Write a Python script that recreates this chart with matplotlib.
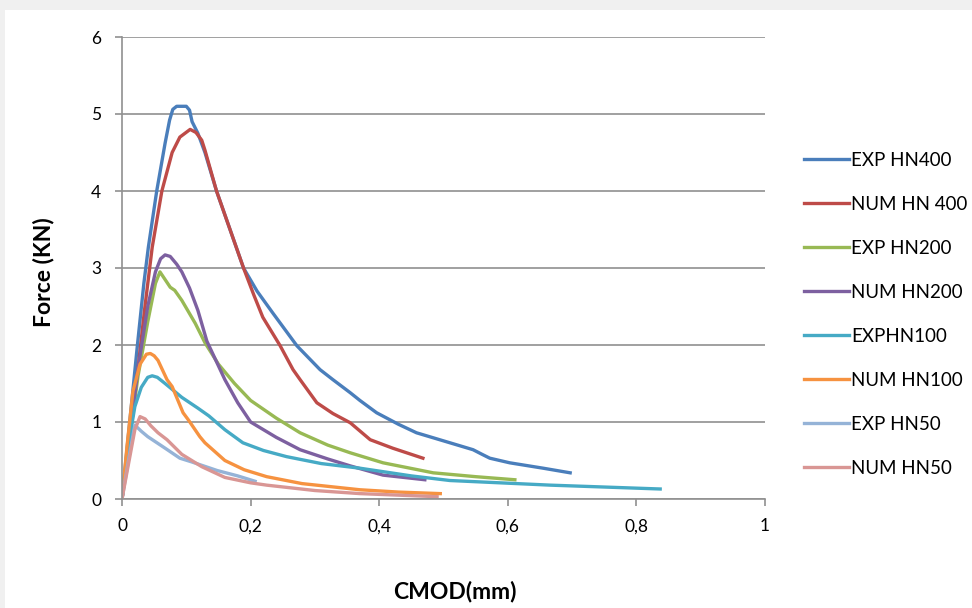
import matplotlib.pyplot as plt
from matplotlib.patches import Rectangle
from matplotlib.ticker import FuncFormatter

plt.rcParams['font.family'] = ['Lato', 'DejaVu Sans']

# CMOD (mm) / Force (kN)
exp400_x = [0, 0.012, 0.024, 0.034, 0.041, 0.054, 0.067, 0.074, 0.079, 0.085, 0.1, 0.105, 0.109, 0.118,
            0.129, 0.147, 0.168, 0.189, 0.21, 0.235, 0.272, 0.308, 0.328, 0.355, 0.37, 0.396,
            0.43, 0.458, 0.51, 0.546, 0.56, 0.572, 0.603, 0.655, 0.697]
exp400_y = [0, 1.0, 2.0, 2.8, 3.27, 4.0, 4.62, 4.92, 5.06, 5.1, 5.1, 5.05, 4.9, 4.75,
            4.5, 4.0, 3.5, 3.0, 2.7, 2.41, 1.99, 1.68, 1.55, 1.38, 1.28, 1.12,
            0.97, 0.86, 0.73, 0.64, 0.58, 0.53, 0.47, 0.4, 0.34]

num400_x = [0, 0.012, 0.025, 0.035, 0.047, 0.062, 0.078, 0.09, 0.106, 0.115, 0.124, 0.129,
            0.147, 0.168, 0.189, 0.205, 0.219, 0.246, 0.266, 0.277, 0.303, 0.328, 0.355,
            0.386, 0.421, 0.468]
num400_y = [0, 0.8, 1.7, 2.45, 3.27, 4.0, 4.5, 4.7, 4.8, 4.76, 4.66, 4.53,
            4.0, 3.5, 3.0, 2.65, 2.36, 1.99, 1.68, 1.55, 1.25, 1.11, 0.99,
            0.77, 0.66, 0.53]

exp200_x = [0, 0.012, 0.025, 0.04, 0.052, 0.059, 0.067, 0.075, 0.082, 0.093, 0.114, 0.129,
            0.15, 0.175, 0.2, 0.24, 0.277, 0.32, 0.355, 0.406, 0.484, 0.55, 0.611]
exp200_y = [0, 0.8, 1.6, 2.3, 2.8, 2.95, 2.85, 2.75, 2.71, 2.58, 2.28, 2.03,
            1.75, 1.5, 1.28, 1.05, 0.86, 0.7, 0.6, 0.47, 0.34, 0.29, 0.25]

num200_x = [0, 0.012, 0.025, 0.04, 0.052, 0.06, 0.067, 0.075, 0.085, 0.093, 0.105, 0.118, 0.132,
            0.16, 0.18, 0.2, 0.24, 0.277, 0.32, 0.355, 0.406, 0.471]
num200_y = [0, 0.8, 1.7, 2.5, 2.95, 3.12, 3.17, 3.15, 3.05, 2.95, 2.74, 2.45, 2.05,
            1.55, 1.25, 1.0, 0.8, 0.64, 0.52, 0.43, 0.31, 0.25]

exp100_x = [0, 0.01, 0.02, 0.03, 0.04, 0.047, 0.055, 0.067, 0.093, 0.118, 0.135, 0.16,
            0.188, 0.22, 0.256, 0.31, 0.37, 0.45, 0.51, 0.666, 0.837]
exp100_y = [0, 0.7, 1.2, 1.45, 1.58, 1.6, 1.58, 1.5, 1.32, 1.18, 1.08, 0.9,
            0.73, 0.63, 0.55, 0.46, 0.4, 0.3, 0.24, 0.18, 0.13]

num100_x = [0, 0.008, 0.017, 0.028, 0.038, 0.044, 0.05, 0.056, 0.07, 0.078, 0.095, 0.103,
            0.121, 0.129, 0.16, 0.19, 0.225, 0.28, 0.37, 0.43, 0.495]
num100_y = [0, 0.7, 1.4, 1.75, 1.88, 1.89, 1.86, 1.8, 1.55, 1.46, 1.12, 1.03,
            0.81, 0.73, 0.5, 0.38, 0.29, 0.2, 0.12, 0.09, 0.07]

exp50_x = [0, 0.01, 0.02, 0.03, 0.04, 0.067, 0.09, 0.109, 0.148, 0.18, 0.207]
exp50_y = [0, 0.5, 0.96, 0.88, 0.81, 0.66, 0.53, 0.48, 0.37, 0.3, 0.23]

num50_x = [0, 0.01, 0.02, 0.028, 0.036, 0.045, 0.056, 0.07, 0.093, 0.124, 0.16, 0.2,
           0.225, 0.3, 0.37, 0.49]
num50_y = [0, 0.45, 0.9, 1.07, 1.04, 0.95, 0.86, 0.77, 0.58, 0.42, 0.28, 0.21,
           0.18, 0.11, 0.07, 0.03]

series = [
    ('EXP HN400', exp400_x, exp400_y, '#4A7EBB'),
    ('NUM HN 400', num400_x, num400_y, '#BE4B48'),
    ('EXP HN200', exp200_x, exp200_y, '#98B954'),
    ('NUM HN200', num200_x, num200_y, '#7D60A0'),
    ('EXPHN100', exp100_x, exp100_y, '#46AAC5'),
    ('NUM HN100', num100_x, num100_y, '#F69240'),
    ('EXP HN50', exp50_x, exp50_y, '#95B3D7'),
    ('NUM HN50', num50_x, num50_y, '#D99694'),
]

fig = plt.figure(figsize=(9.72, 6.08), dpi=100)
fig.patch.set_facecolor('#f0f0f0')
fig.patches.append(Rectangle((5 / 972, 0), 1, 1 - 10 / 608, transform=fig.transFigure,
                             facecolor='white', edgecolor='none', zorder=-1))

ax = fig.add_axes([122 / 972, 1 - 499 / 608, 643 / 972, 462 / 608])
ax.set_facecolor('none')

for name, xs, ys, c in series:
    ax.plot(xs, ys, color=c, lw=2.4, label=name, solid_joinstyle='round')

ax.set_xlim(0, 1)
ax.set_ylim(0, 6)
ax.set_xticks([0, 0.2, 0.4, 0.6, 0.8, 1])
ax.set_yticks(range(7))
ax.xaxis.set_major_formatter(FuncFormatter(lambda v, p: ('%g' % round(v, 1)).replace('.', ',')))
ax.grid(axis='y', color='#a0a0a0', lw=1.4)
ax.set_axisbelow(True)
for s in ['top', 'right']:
    ax.spines[s].set_visible(False)
for s in ['left', 'bottom']:
    ax.spines[s].set_color('#909090')
    ax.spines[s].set_linewidth(1.2)
ax.tick_params(colors='#909090', length=5, width=1.2, labelcolor='black', labelsize=12.5)
ax.tick_params(axis='x', pad=9)
ax.tick_params(axis='y', pad=10)

fig.text(455 / 972, 1 - 592 / 608, 'CMOD(mm)', fontsize=16.5, fontweight='bold',
         ha='center', va='center')
fig.text(44 / 972, 1 - 272 / 608, 'Force (KN)', fontsize=16.5, fontweight='bold',
         ha='center', va='center', rotation=90)

ax.legend(loc='upper left', bbox_to_anchor=(804 / 972, 1 - 152 / 608), bbox_transform=fig.transFigure,
          frameon=False, fontsize=13.5, handlelength=2.4, handletextpad=0.1, labelspacing=1.44,
          borderpad=0, borderaxespad=0)

fig.savefig('out.png', dpi=100, facecolor=fig.get_facecolor())
